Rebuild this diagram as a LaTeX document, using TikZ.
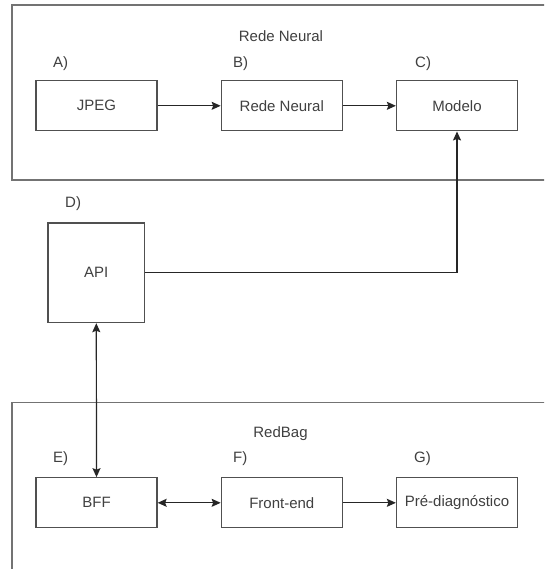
\documentclass[tikz,border=0pt]{standalone}
\usepackage{fontspec}
\setmainfont{Liberation Sans}
\usetikzlibrary{arrows.meta}
\definecolor{txt}{HTML}{404040}
\definecolor{ln}{HTML}{505050}
\tikzset{
  box/.style={draw=ln, line width=1.3pt, minimum width=121pt, minimum height=50pt, inner sep=0pt, text=txt, font=\fontsize{15}{17}\selectfont},
  lbl/.style={text=txt, font=\fontsize{15}{17}\selectfont, inner sep=0pt, anchor=west},
  ttl/.style={text=txt, font=\fontsize{15}{17}\selectfont, inner sep=0pt},
  frame/.style={draw=ln!80, line width=1.5pt},
  tip/.style={Stealth[length=9pt,width=8pt,inset=1.5pt]},
  conn/.style={draw=black!85, line width=1.2pt, -{Stealth[length=9pt,width=8pt,inset=1.5pt]}},
  bconn/.style={draw=black!85, line width=1.2pt, {Stealth[length=9pt,width=8pt,inset=1.5pt]}-{Stealth[length=9pt,width=8pt,inset=1.5pt]}}
}
\begin{document}
\begin{tikzpicture}[x=1pt,y=-1pt]
\useasboundingbox[fill=white] (0,0) rectangle (544,569);
\clip (0,0) rectangle (544,569);
% outer frames
\draw[frame] (12,5) rectangle (580,180);
\draw[frame] (12,402.5) rectangle (580,600);
% titles
\node[ttl] (t1) at (281,36) {Rede Neural};
\node[ttl] (t2) at (280.5,434) {RedBag};
% labels
\node[lbl] (la) at (53,63.5) {A)};
\node[lbl] (lb) at (233,63.5) {B)};
\node[lbl] (lc) at (415,63.5) {C)};
\node[lbl] (ld) at (65,204) {D)};
\node[lbl] (le) at (53,459) {E)};
\node[lbl] (lf) at (233,459) {F)};
\node[lbl] (lg) at (414,459) {G)};
% boxes
\node[box] (jpeg) at (96.5,105.8) {JPEG};
\node[box] (rede) at (281.8,105.8) {Rede Neural};
\node[box] (modelo) at (457,105.8) {Modelo};
\node[box, minimum width=96.5pt, minimum height=99.5pt] (api) at (96.3,272.8) {API};
\node[box] (bff) at (96.5,502.8) {BFF};
\node[box] (front) at (281.8,502.8) {Front-end};
\node[box] (pre) at (457,502.8) {Pré-diagnóstico};
% connectors
\draw[conn] (jpeg) -- (rede);
\draw[conn] (rede) -- (modelo);
\draw[conn] (api.east) -| (modelo.south);
\draw[bconn] (api.south) -- (bff.north);
\draw[bconn] (bff) -- (front);
\draw[conn] (front) -- (pre);
\end{tikzpicture}
\end{document}
